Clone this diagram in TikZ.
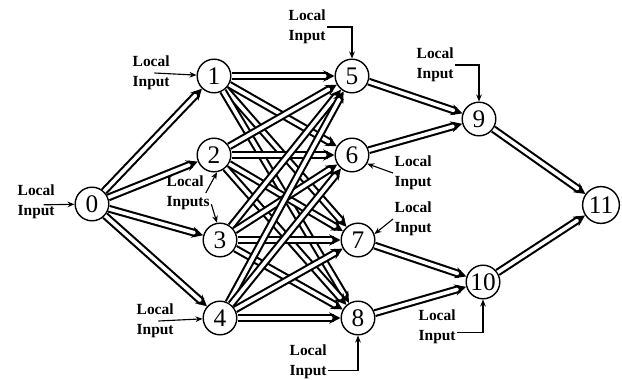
\documentclass[tikz,border=0pt]{standalone}
\usepackage{fontspec}
\setmainfont{Liberation Serif}
\usetikzlibrary{arrows.meta,positioning}

\begin{document}
\begin{tikzpicture}[node distance=3.45cm,
    proc/.style={circle, draw, line width=1pt, fill=white, minimum size=0.84cm, inner sep=0pt, font=\fontsize{18}{18}\selectfont},
    inlabel/.style={align=left, inner sep=1pt, font=\bfseries\fontsize{11}{14.5}\selectfont},
    link/.style={double, double distance=2.6pt, line width=1.5pt, -{Stealth[length=8pt,width=8pt]}},
    feed/.style={line width=0.8pt, -{Stealth[length=5pt,width=4pt]}}]
    \useasboundingbox (0,0) rectangle (15.55,-9.5);

    \node[proc] (n0) at (2.3,-5.1) {0};

    \node[proc] (n1) at (5.35,-1.9) {1};
    \node[proc] (n2) at (5.35,-3.875) {2};
    \node[proc] (n3) at (5.5,-6.0) {3};
    \node[proc] (n4) at (5.5,-7.95) {4};

    \node[proc, right of=n1] (n5) {5};
    \node[proc, right of=n2] (n6) {6};
    \node[proc, right of=n3] (n7) {7};
    \node[proc, right of=n4] (n8) {8};

    \node[proc] (n9) at (11.975,-2.975) {9};
    \node[proc] (n10) at (12.075,-7.05) {10};
    \node[proc, minimum size=0.92cm] (n11) at (15.025,-5.125) {11};

    % local inputs
    \node[inlabel, anchor=west] (in0) at (0.4,-5.05) {Local\\Input};
    \node[inlabel, anchor=west] (in1) at (3.275,-1.825) {Local\\Input};
    \node[inlabel, anchor=west] (in23) at (4.125,-4.825) {Local\\Inputs};
    \node[inlabel, anchor=west] (in4) at (3.375,-8.025) {Local\\Input};
    \node[inlabel, anchor=west] (in5) at (7.175,-0.675) {Local\\Input};
    \node[inlabel, anchor=west] (in6) at (9.825,-4.325) {Local\\Input};
    \node[inlabel, anchor=west] (in7) at (9.825,-5.475) {Local\\Input};
    \node[inlabel, anchor=west] (in8) at (7.2,-9.05) {Local\\Input};
    \node[inlabel, anchor=west] (in9) at (10.375,-1.625) {Local\\Input};
    \node[inlabel, anchor=west] (in10) at (10.425,-8.175) {Local\\Input};

    \draw[feed] ([xshift=-9pt,yshift=-2pt]in0.east) -- (n0);
    \draw[feed] ([xshift=-12pt]in1.east) -- (n1);
    \draw[feed] ([xshift=-4pt]in23.east) -- (n2.-80);
    \draw[feed] ([yshift=-8pt]in23.east) -- (n3.100);
    \draw[feed] ([xshift=-12pt]in4.east) -- (n4);
    \draw[feed] (in5.east) -| (n5);
    \draw[feed] (in6.west) -- (n6.-30);
    \draw[feed] (in7.west) -- (n7.20);
    \draw[feed] ([yshift=-6pt]in8.east) -| (n8);
    \draw[feed] (in9.east) -| (n9);
    \draw[feed] ([yshift=-4pt]in10.east) -| (n10);

    % links
    \path (n0) edge[link] (n1);
    \path (n0) edge[link] (n2);
    \path (n0) edge[link] (n3);
    \path (n0) edge[link] (n4);

    \path (n1) edge[link] (n5);
    \path (n1) edge[link] (n6);
    \path (n1) edge[link] (n7);
    \path (n1) edge[link] (n8);
    \path (n2) edge[link] (n5);
    \path (n2) edge[link] (n6);
    \path (n2) edge[link] (n7);
    \path (n2) edge[link] (n8);
    \path (n3) edge[link] (n5);
    \path (n3) edge[link] (n6);
    \path (n3) edge[link] (n7);
    \path (n3) edge[link] (n8);
    \path (n4) edge[link] (n5);
    \path (n4) edge[link] (n6);
    \path (n4) edge[link] (n7);
    \path (n4) edge[link] (n8);

    \path (n5) edge[link] (n9);
    \path (n6) edge[link] (n9);
    \path (n7) edge[link] (n10);
    \path (n8) edge[link] (n10);
    \path (n9) edge[link] (n11);
    \path (n10) edge[link] (n11);
\end{tikzpicture}
\end{document}
